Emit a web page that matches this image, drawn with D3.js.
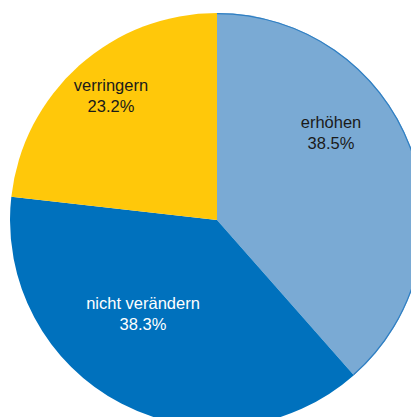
<!DOCTYPE html>
<html>
<head>
<meta charset="utf-8">
<script src="https://cdn.jsdelivr.net/npm/d3@7"></script>
<style>
  body { margin: 0; background: #fff; }
  text { font-family: "Liberation Sans", Arial, sans-serif; font-size: 16.5px; }
</style>
</head>
<body>
<div id="chart-area"></div>
<script>
// Slice data, clockwise from 12 o'clock
var categories = ["erhöhen", "nicht verändern", "verringern"];
var values = [38.5, 38.3, 23.2];
var colors = ["#7aaad4", "#0071bd", "#ffc80a"];
var labelColors = ["#1a1a1a", "#ffffff", "#1a1a1a"];

var width = 411, height = 417;
var cx = 217, cy = 220, radius = 207;

var svg = d3.select("#chart-area")
    .append("svg")
    .attr("width", width)
    .attr("height", height);

var g = svg.append("g")
    .attr("transform", "translate(" + cx + "," + cy + ")");

var data = categories.map(function(c, i) {
    return {name: c, value: values[i], color: colors[i], labelColor: labelColors[i]};
});

var pie = d3.pie().sort(null).value(d => d.value);
var arcs = pie(data);

var arc = d3.arc().innerRadius(0).outerRadius(radius);

g.selectAll("path.slice")
    .data(arcs)
    .enter()
    .append("path")
    .attr("class", "slice")
    .attr("d", arc)
    .attr("fill", d => d.data.color);

// thin darker rim on the light blue slice
var rim = d3.arc().innerRadius(radius - 1.2).outerRadius(radius);
g.append("path")
    .attr("d", rim(arcs[0]))
    .attr("fill", "#2f7fc3");

// labels (offsets from centre, first-line baseline)
var labelPos = [[114, -92], [-74, 89], [-106, -129]];

var labels = g.selectAll("text.label")
    .data(arcs)
    .enter()
    .append("text")
    .attr("class", "label")
    .attr("text-anchor", "middle")
    .attr("fill", d => d.data.labelColor)
    .attr("transform", (d, i) => "translate(" + labelPos[i][0] + "," + labelPos[i][1] + ")");

labels.append("tspan")
    .attr("x", 0)
    .attr("dy", 0)
    .text(d => d.data.name);

labels.append("tspan")
    .attr("x", 0)
    .attr("dy", 20.5)
    .text(d => d.data.value.toFixed(1) + "%");
</script>
</body>
</html>
